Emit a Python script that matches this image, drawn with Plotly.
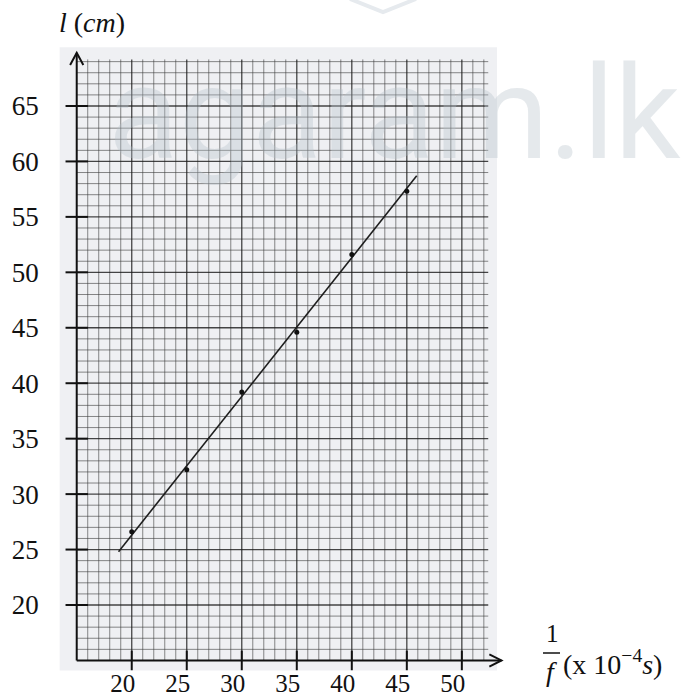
import plotly.graph_objects as go

# Measured resonance data: l (cm) against 1/f (x10^-4 s)
inv_f = [20, 25, 30, 35, 40, 45]
length_cm = [26.6, 32.2, 39.2, 44.6, 51.6, 57.3]

# Hand-drawn best-fit line end points
fit_x = [18.8, 45.9]
fit_y = [24.8, 58.7]

# Tick labels
x_ticks = [20, 25, 30, 35, 40, 45, 50]
y_ticks = [20, 25, 30, 35, 40, 45, 50, 55, 60, 65]

W, H = 683, 698
X_RANGE = [8.027, 70.1]
Y_RANGE = [11.613, 74.558]
ORIGIN = 15
X_TIP, Y_TIP = 53.6, 69.8


def pxx(p):
    return p / W


def pxy(p):
    return 1 - p / H


SERIF = "Liberation Serif"

fig = go.Figure()


# graph-paper grid: fine lines every unit, heavier every five
def grid_trace(xs, ys, color, width):
    return go.Scatter(x=xs, y=ys, mode="lines", hoverinfo="skip",
                      line=dict(color=color, width=width), showlegend=False)


gx_min, gx_max = 15, 52.4
gy_min, gy_max = 15, 69.2
minor_x, minor_y, major_x, major_y = [], [], [], []
for v in range(16, 53):
    tx, ty = (major_x, major_y) if v % 5 == 0 else (minor_x, minor_y)
    tx += [v, v, None]
    ty += [gy_min, gy_max, None]
for v in range(16, 70):
    tx, ty = (major_x, major_y) if v % 5 == 0 else (minor_x, minor_y)
    tx += [gx_min, gx_max, None]
    ty += [v, v, None]

fig.add_trace(grid_trace(minor_x, minor_y, "rgba(60,60,60,0.6)", 1))
fig.add_trace(grid_trace(major_x, major_y, "rgba(25,25,25,0.8)", 1.3))

# best-fit line and data points
fig.add_trace(go.Scatter(x=fit_x, y=fit_y, mode="lines", showlegend=False,
                         line=dict(color="#1e1e1e", width=1.6)))
fig.add_trace(go.Scatter(x=inv_f, y=length_cm, mode="markers", showlegend=False,
                         marker=dict(color="#111", size=5)))

# axis tick marks crossing the axes
fig.add_trace(go.Scatter(x=x_ticks, y=[ORIGIN] * len(x_ticks), mode="markers",
                         showlegend=False, hoverinfo="skip",
                         marker=dict(symbol="line-ns", size=14,
                                     line=dict(color="#111", width=2))))
fig.add_trace(go.Scatter(x=[ORIGIN] * len(y_ticks), y=y_ticks, mode="markers",
                         showlegend=False, hoverinfo="skip",
                         marker=dict(symbol="line-ew", size=16,
                                     line=dict(color="#111", width=2))))

AXIS_LINE = dict(color="#111", width=2)
shapes = [
    # scanned sheet background
    dict(type="rect", xref="x", yref="y", x0=13.45, x1=53.2, y0=14.1, y1=70.3,
         fillcolor="#eff0f3", line=dict(width=0), layer="below"),
    # axis lines with open arrow heads
    dict(type="line", xref="x", yref="y", x0=ORIGIN, y0=ORIGIN, x1=ORIGIN, y1=Y_TIP,
         line=AXIS_LINE),
    dict(type="line", xref="x", yref="y", x0=ORIGIN, y0=ORIGIN, x1=X_TIP, y1=ORIGIN,
         line=AXIS_LINE),
    dict(type="path", xref="x", yref="y", line=AXIS_LINE,
         path=f"M {ORIGIN - 0.6},{Y_TIP - 1.1} L {ORIGIN},{Y_TIP} L {ORIGIN + 0.6},{Y_TIP - 1.1}"),
    dict(type="path", xref="x", yref="y", line=AXIS_LINE,
         path=f"M {X_TIP - 1.1},{ORIGIN + 0.55} L {X_TIP},{ORIGIN} L {X_TIP - 1.1},{ORIGIN - 0.55}"),
    # fraction bar of the x-axis title
    dict(type="line", xref="paper", yref="paper", x0=pxx(543), x1=pxx(560),
         y0=pxy(653), y1=pxy(653), line=dict(color="#111", width=1.5)),
    # small logo chevron at the top
    dict(type="path", xref="paper", yref="paper",
         path=f"M {pxx(350)},{pxy(-1)} L {pxx(383)},{pxy(12)} L {pxx(416)},{pxy(-1)}",
         line=dict(color="#e6eaee", width=4)),
]


def label(px, py, text, size, xanchor="center", yanchor="middle", family=SERIF,
          color="#111", **font_extra):
    return dict(x=pxx(px), y=pxy(py), xref="paper", yref="paper", showarrow=False,
                xanchor=xanchor, yanchor=yanchor, text=text,
                font=dict(family=family, size=size, color=color, **font_extra))


annotations = [
    # axis titles
    label(57, 22, "<i>l</i> (<i>cm</i>)", 28, xanchor="left"),
    label(552, 633, "1", 25),
    label(551, 671, "<i>f</i>", 28),
    label(561, 662, "(x 10<sup>−4</sup><i>s</i>)", 28, xanchor="left"),
    # site watermark
    label(106, 192, "agaram.lk", 130, xanchor="left", yanchor="bottom",
          family="Roboto, sans-serif", color="rgba(181,192,201,0.35)"),
]

fig.update_layout(
    template="none",
    width=W, height=H,
    margin=dict(l=0, r=0, t=0, b=0, autoexpand=False),
    paper_bgcolor="white", plot_bgcolor="white",
    font=dict(family=SERIF, color="#111"),
    showlegend=False,
    shapes=shapes, annotations=annotations,
    xaxis=dict(range=X_RANGE, anchor="free", position=(H - 660) / H,
               tickvals=x_ticks, ticktext=[str(v) for v in x_ticks],
               showgrid=False, zeroline=False, showline=False, ticks="",
               ticklabelstandoff=6, ticklabelshift=-9,
               tickfont=dict(family=SERIF, size=25, color="#111")),
    yaxis=dict(range=Y_RANGE, anchor="free", position=76.7 / W,
               tickvals=y_ticks, ticktext=[str(v) for v in y_ticks],
               showgrid=False, zeroline=False, showline=False, ticks="",
               ticklabelstandoff=38,
               tickfont=dict(family=SERIF, size=27, color="#111")),
)

fig.write_html("out.html")
